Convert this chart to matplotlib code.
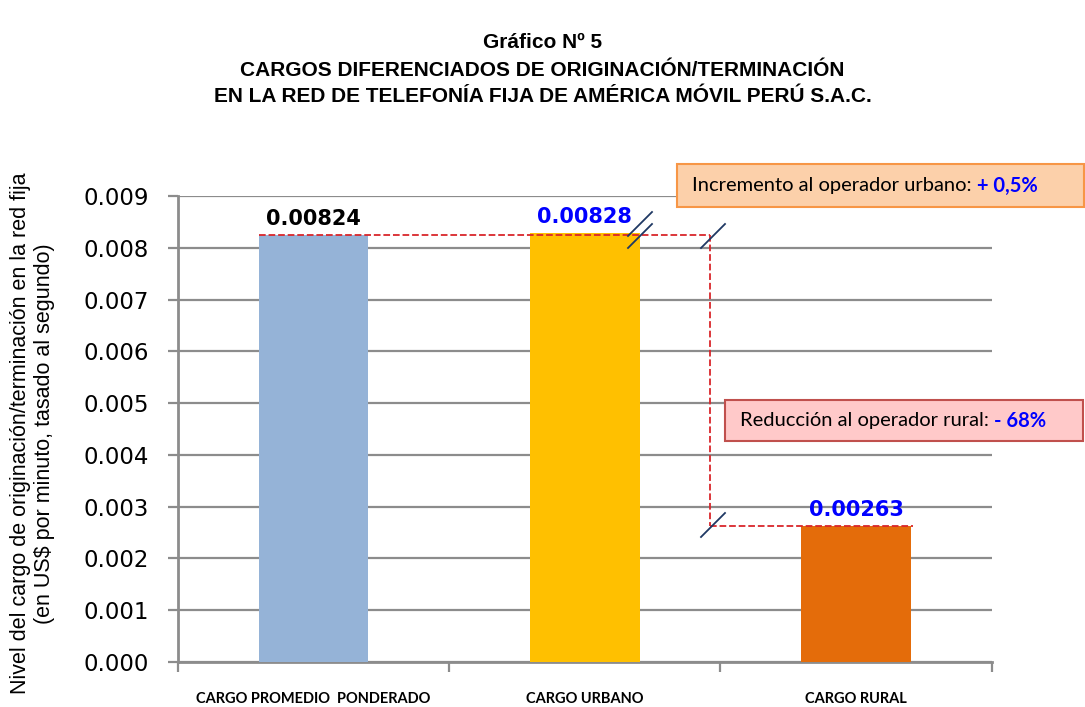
import matplotlib.pyplot as plt
from matplotlib.patches import Rectangle
from matplotlib.text import Annotation

categorias = ["CARGO PROMEDIO  PONDERADO", "CARGO URBANO", "CARGO RURAL"]
valores = [0.00824, 0.00828, 0.00263]
etiquetas = ["0.00824", "0.00828", "0.00263"]
colores_etiqueta = ["black", "#0000ff", "#0000ff"]
colores = ["#95b3d7", "#ffc000", "#e46c0a"]
yticks = [i / 1000 for i in range(10)]

fig = plt.figure(figsize=(10.85, 7.07), dpi=100)
ax = fig.add_axes([0.164, 0.0636, 0.75, 0.6592])

x = range(len(categorias))
ax.bar(x, valores, width=0.405, color=colores, zorder=3)
ax.set_xlim(-0.5, 2.5)
ax.set_ylim(0, 0.009)
ax.set_yticks(yticks)
ax.set_yticklabels([f"{v:.3f}" for v in yticks], fontsize=16.5)
ax.yaxis.grid(True, color="#8c8c8c", linewidth=1.6, zorder=0)
ax.set_xticks([-0.5, 0.5, 1.5, 2.5])
ax.set_xticklabels([])
ax.tick_params(axis="both", color="#8c8c8c", width=1.6, length=7)
ax.tick_params(axis="y", pad=14)
for s in ["top", "right"]:
    ax.spines[s].set_visible(False)
for s in ["left", "bottom"]:
    ax.spines[s].set_color("#8c8c8c")
    ax.spines[s].set_linewidth(2)

for i, c in enumerate(categorias):
    ax.text(i, -0.00072, c, ha="center", va="center", fontsize=10.5,
            fontweight="bold", family="Lato")

for i, (v, t, c) in enumerate(zip(valores, etiquetas, colores_etiqueta)):
    ax.text(i, v + 0.00012, t, ha="center", va="bottom", fontsize=15,
            fontweight="bold", color=c, family="DejaVu Sans")

ax.set_ylabel("Nivel del cargo de originación/terminación en la red fija\n"
              "(en US$ por minuto, tasado al segundo)",
              fontsize=15.5, family="Liberation Sans")
ax.yaxis.set_label_coords(-0.151, 0.49)

# líneas de referencia
xv = 1.46
ax.plot([-0.2, xv], [valores[0], valores[0]], ls="--", color="#d9262b", lw=1.3, zorder=4)
ax.plot([xv, xv], [valores[0], valores[2]], ls="--", color="#d9262b", lw=1.3, zorder=4)
ax.plot([xv, 2.21], [valores[2], valores[2]], ls="--", color="#d9262b", lw=1.3, zorder=4)


# marcas de corte
def corte(px, py):
    fig.add_artist(plt.Line2D([(px - 12) / 1085, (px + 12) / 1085],
                              [1 - (py + 12) / 707, 1 - (py - 12) / 707],
                              color="#1f3864", lw=1.3))


corte(640, 224)
corte(640, 236)
corte(713, 236)
corte(713, 525)


# cuadros de texto
def cuadro(x0, y0, x1, y1, fc, ec, negro, azul):
    fig.add_artist(Rectangle((x0 / 1085, 1 - y1 / 707), (x1 - x0) / 1085,
                             (y1 - y0) / 707, facecolor=fc, edgecolor=ec,
                             lw=1.5, transform=fig.transFigure))
    t = fig.text((x0 + 15) / 1085, 1 - (y0 + y1) / 2 / 707, negro,
                 fontsize=14.5, family="Lato", va="center")
    fig.add_artist(Annotation(
        azul, xy=(1, 0.5), xycoords=t, xytext=(4, 0), textcoords="offset points",
        fontsize=14.5, family="Lato", fontweight="bold", color="#0000ff",
        va="center", ha="left"))


cuadro(677, 164, 1084, 207, "#fcd0aa", "#f79646",
       "Incremento al operador urbano:", "+ 0,5%")
cuadro(725, 400, 1083, 441, "#ffc9c9", "#c0504d",
       "Reducción al operador rural:", "- 68%")

fig.text(0.5, 1 - 43 / 707, "Gráfico Nº 5", ha="center", va="center",
         fontsize=15, fontweight="bold", family="Liberation Sans")
fig.text(0.5, 1 - 70 / 707, "CARGOS DIFERENCIADOS DE ORIGINACIÓN/TERMINACIÓN",
         ha="center", va="center", fontsize=15, fontweight="bold", family="Liberation Sans")
fig.text(0.5, 1 - 97 / 707, "EN LA RED DE TELEFONÍA FIJA DE AMÉRICA MÓVIL PERÚ S.A.C.",
         ha="center", va="center", fontsize=15, fontweight="bold", family="Liberation Sans")

fig.savefig("out.png", dpi=100)
